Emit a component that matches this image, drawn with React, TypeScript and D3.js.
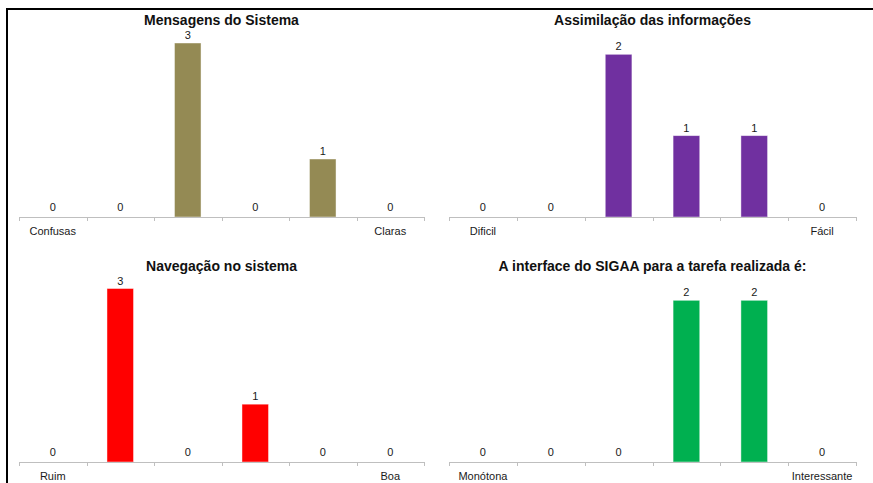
import React from "react";
import * as d3 from "d3";

// Survey results: six-point scales, counts of answers per point
const mensagensLabels = ["Confusas", "", "", "", "", "Claras"];
const mensagensValues = [0, 0, 3, 0, 1, 0];

const assimilacaoLabels = ["Dificil", "", "", "", "", "Fácil"];
const assimilacaoValues = [0, 0, 2, 1, 1, 0];

const navegacaoLabels = ["Ruim", "", "", "", "", "Boa"];
const navegacaoValues = [0, 3, 0, 1, 0, 0];

const interfaceLabels = ["Monótona", "", "", "", "", "Interessante"];
const interfaceValues = [0, 0, 0, 2, 2, 0];

const titles = [
  "Mensagens do Sistema",
  "Assimilação das informações",
  "Navegação no sistema",
  "A interface do SIGAA para a tarefa realizada é:",
];

const colors = ["#948A54", "#7030A0", "#FF0000", "#00B050"];

type Panel = {
  title: string;
  labels: string[];
  values: number[];
  color: string;
  x0: number;
  x1: number;
  baseline: number;
  top: number;
  titleY: number;
};

const panels: Panel[] = [
  { title: titles[0], labels: mensagensLabels, values: mensagensValues, color: colors[0], x0: 19, x1: 424, baseline: 217, top: 43, titleY: 24.5 },
  { title: titles[1], labels: assimilacaoLabels, values: assimilacaoValues, color: colors[1], x0: 449, x1: 856, baseline: 217, top: 54.3, titleY: 24.5 },
  { title: titles[2], labels: navegacaoLabels, values: navegacaoValues, color: colors[2], x0: 19, x1: 424, baseline: 462, top: 288.5, titleY: 270.7 },
  { title: titles[3], labels: interfaceLabels, values: interfaceValues, color: colors[3], x0: 449, x1: 856, baseline: 462, top: 300.3, titleY: 270.7 },
];

const FONT = "'Liberation Sans', Arial, sans-serif";

function BarPanel({ p }: { p: Panel }) {
  const idx = p.values.map((_, i) => String(i));
  const x = d3
    .scaleBand<string>()
    .domain(idx)
    .range([p.x0, p.x1])
    .paddingInner(0.607)
    .paddingOuter(0.3035);
  const maxV = d3.max(p.values) ?? 1;
  const y = d3.scaleLinear().domain([0, maxV]).range([p.baseline, p.top]);
  const step = x.step();
  const ticks = d3.range(p.values.length + 1).map((i) => p.x0 + i * step);
  const cx = (p.x0 + p.x1) / 2;

  return (
    <g>
      <text
        x={cx}
        y={p.titleY}
        textAnchor="middle"
        fontFamily={FONT}
        fontWeight="bold"
        fontSize={14}
        fill="#111"
      >
        {p.title}
      </text>
      {p.values.map((v, i) => {
        const bx = x(String(i)) ?? 0;
        const by = y(v);
        return (
          <g key={i}>
            {v > 0 && (
              <rect
                x={bx}
                y={by}
                width={x.bandwidth()}
                height={p.baseline - by}
                fill={p.color}
                stroke="#ffffff"
                strokeOpacity={0.55}
                strokeWidth={0.8}
              />
            )}
            <text
              x={bx + x.bandwidth() / 2}
              y={by - (v === 0 ? 6.3 : 4)}
              textAnchor="middle"
              fontFamily={FONT}
              fontSize={11}
              fill="#1a1a1a"
            >
              {v}
            </text>
          </g>
        );
      })}
      <line x1={p.x0} x2={p.x1} y1={p.baseline + 0.5} y2={p.baseline + 0.5} stroke="#BFBFBF" strokeWidth={1} />
      {ticks.map((tx, i) => (
        <line
          key={i}
          x1={Math.round(tx) + 0.5}
          x2={Math.round(tx) + 0.5}
          y1={p.baseline}
          y2={p.baseline + 4}
          stroke="#BFBFBF"
          strokeWidth={1}
        />
      ))}
      {p.labels.map((lab, i) =>
        lab ? (
          <text
            key={i}
            x={(x(String(i)) ?? 0) + x.bandwidth() / 2}
            y={p.baseline + 18}
            textAnchor="middle"
            fontFamily={FONT}
            fontSize={11}
            fill="#1a1a1a"
          >
            {lab}
          </text>
        ) : null
      )}
    </g>
  );
}

export default function App() {
  return (
    <svg
      width={873}
      height={483}
      viewBox="0 0 873 483"
      style={{ position: "absolute", left: 0, top: 0, background: "#fff" }}
    >
      <rect x={0} y={0} width={873} height={483} fill="#fff" />
      <path d="M7,483 V9 H873" fill="none" stroke="#000" strokeWidth={2} />
      {panels.map((p, i) => (
        <BarPanel key={i} p={p} />
      ))}
    </svg>
  );
}
